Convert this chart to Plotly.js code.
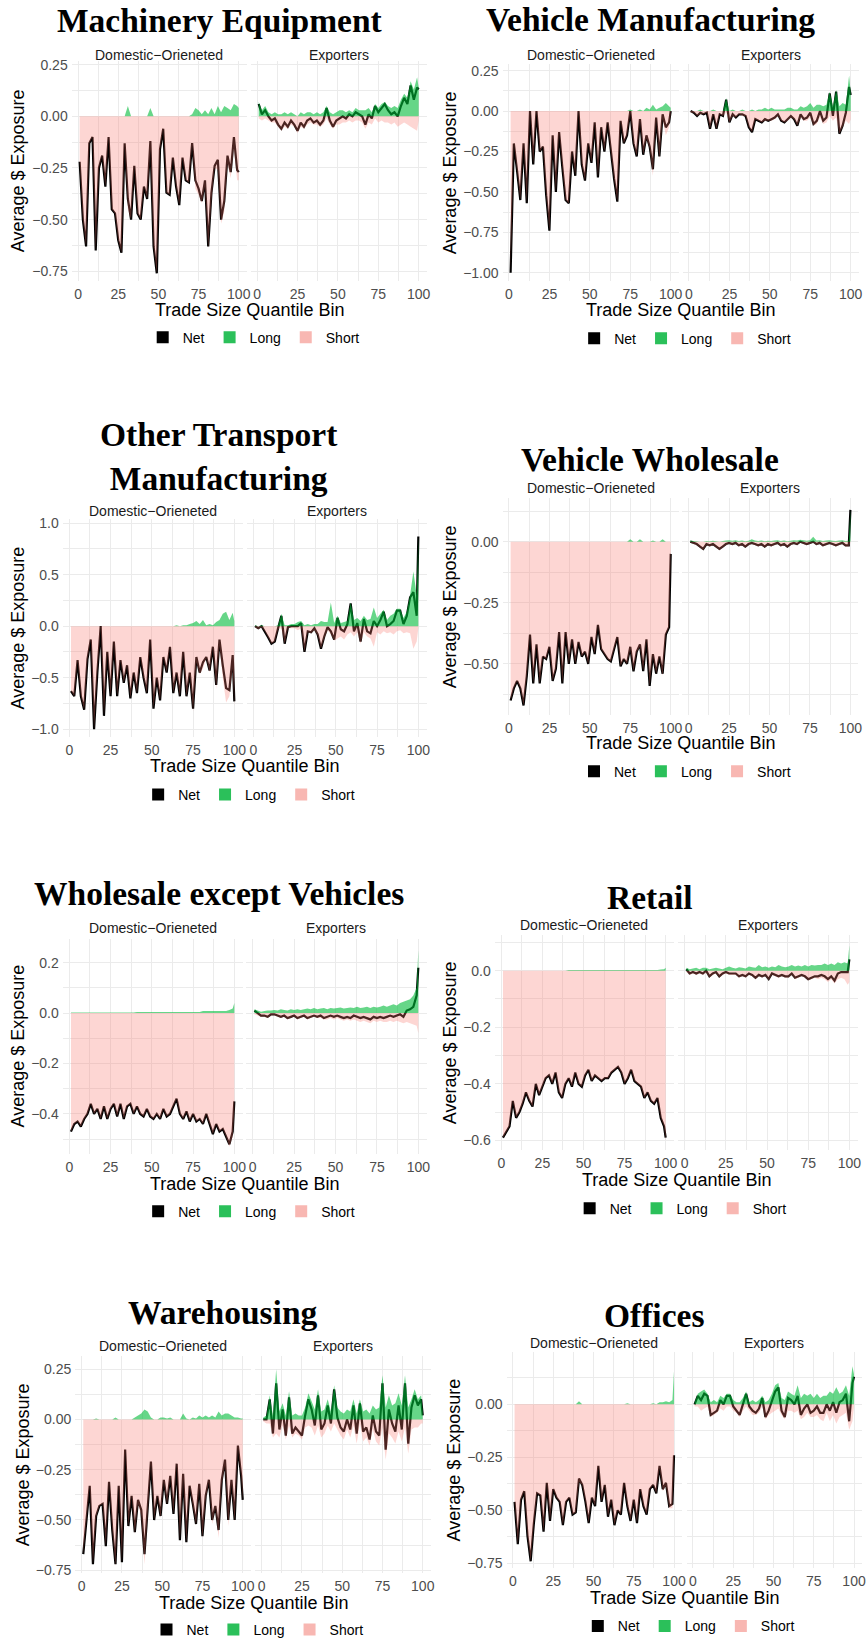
<!DOCTYPE html>
<html>
<head>
<meta charset="utf-8">
<script src="https://cdn.plot.ly/plotly-3.0.1.min.js"></script>
<style>
  html, body { margin: 0; padding: 0; background: #fff; }
</style>
</head>
<body>
<div id="plot"></div>
<script>
// Trade size quantile bins (every other bin, plus bin 100)
const bins = [1,3,5,7,9,11,13,15,17,19,21,23,25,27,29,31,33,35,37,39,41,43,45,47,49,51,53,55,57,59,61,63,65,67,69,71,73,75,77,79,81,83,85,87,89,91,93,95,97,99,100];

// Machinery Equipment
const machDomNet = [-0.22,-0.50,-0.63,-0.13,-0.10,-0.65,-0.25,-0.19,-0.34,-0.10,-0.45,-0.47,-0.60,-0.66,-0.13,-0.40,-0.50,-0.24,-0.47,-0.50,-0.34,-0.40,-0.12,-0.63,-0.76,-0.16,-0.06,-0.37,-0.38,-0.20,-0.34,-0.43,-0.20,-0.31,-0.32,-0.13,-0.31,-0.35,-0.41,-0.31,-0.63,-0.37,-0.24,-0.21,-0.50,-0.41,-0.19,-0.27,-0.10,-0.26,-0.27];
const machDomLong = [0,0,0,0,0,0,0,0,0,0,0,0,0,0,0,0.05,0,0,0,0,0,0,0.04,0,0,0,0,0,0,0,0,0,0,0,0,0.01,0.04,0.03,0.01,0.03,0.01,0.04,0.01,0.05,0.02,0.05,0.04,0.03,0.06,0.05,0.04];
const machDomShort = [-0.22,-0.50,-0.63,-0.13,-0.10,-0.65,-0.25,-0.19,-0.34,-0.10,-0.45,-0.47,-0.60,-0.66,-0.13,-0.45,-0.50,-0.24,-0.47,-0.50,-0.34,-0.40,-0.16,-0.63,-0.76,-0.16,-0.06,-0.37,-0.38,-0.20,-0.34,-0.43,-0.20,-0.31,-0.32,-0.14,-0.35,-0.38,-0.42,-0.34,-0.64,-0.41,-0.25,-0.26,-0.52,-0.46,-0.23,-0.30,-0.16,-0.31,-0.31];
const machExpNet = [0.06,0.01,0.03,0.0,-0.02,-0.01,-0.04,-0.06,-0.03,-0.05,-0.02,-0.04,-0.07,-0.03,-0.05,-0.02,-0.01,-0.03,-0.02,-0.04,-0.02,0.04,-0.02,-0.05,-0.02,-0.01,0.0,-0.01,0.01,0.0,0.02,0.01,0.0,-0.04,0.01,-0.01,0.05,0.02,0.04,0.06,0.03,0.01,0.02,0.0,0.05,0.09,0.06,0.15,0.08,0.14,0.13];
const machExpLong = [0.07,0.03,0.05,0.02,0.01,0.02,0.01,0.01,0.02,0.01,0.02,0.01,0.0,0.02,0.01,0.02,0.02,0.01,0.02,0.01,0.02,0.05,0.02,0.01,0.02,0.03,0.03,0.02,0.03,0.02,0.04,0.03,0.03,0.03,0.04,0.02,0.06,0.04,0.06,0.07,0.05,0.04,0.05,0.04,0.08,0.11,0.09,0.17,0.13,0.19,0.14];
const machExpShort = [-0.01,-0.02,-0.01,-0.02,-0.03,-0.03,-0.05,-0.07,-0.05,-0.06,-0.04,-0.05,-0.08,-0.05,-0.06,-0.04,-0.03,-0.04,-0.04,-0.05,-0.04,-0.01,-0.04,-0.06,-0.04,-0.04,-0.03,-0.03,-0.02,-0.03,-0.02,-0.02,-0.03,-0.06,-0.03,-0.04,-0.01,-0.03,-0.02,-0.03,-0.03,-0.04,-0.03,-0.05,-0.04,-0.03,-0.04,-0.05,-0.06,-0.07,-0.02];

// Vehicle Manufacturing
const vmanDomNet = [-1.00,-0.20,-0.37,-0.55,-0.20,-0.57,0.0,-0.33,0.0,-0.25,-0.22,-0.52,-0.74,-0.15,-0.50,-0.13,-0.35,-0.55,-0.57,-0.25,-0.40,0.0,-0.33,-0.43,-0.20,-0.32,-0.07,-0.41,-0.10,-0.25,-0.07,-0.25,-0.42,-0.56,-0.06,-0.20,-0.15,0.0,-0.20,-0.28,-0.05,-0.27,-0.15,-0.22,-0.36,-0.04,-0.28,-0.02,-0.10,-0.07,0.0];
const vmanDomLong = [0,0,0,0,0,0,0,0,0,0,0,0,0,0,0,0,0,0,0,0,0,0,0,0,0,0,0,0,0,0,0,0,0,0,0,0,0,0.01,0,0,0.01,0,0.02,0.01,0.04,0.01,0.02,0.03,0.05,0.03,0.02];
const vmanDomShort = [-1.00,-0.20,-0.37,-0.55,-0.20,-0.57,0.0,-0.33,0.0,-0.25,-0.22,-0.52,-0.74,-0.15,-0.50,-0.13,-0.35,-0.55,-0.57,-0.25,-0.40,0.0,-0.33,-0.43,-0.20,-0.32,-0.07,-0.41,-0.10,-0.25,-0.07,-0.25,-0.42,-0.56,-0.06,-0.20,-0.15,-0.01,-0.20,-0.28,-0.06,-0.27,-0.17,-0.23,-0.40,-0.05,-0.30,-0.05,-0.15,-0.10,-0.02];
const vmanExpNet = [0.0,-0.01,-0.03,-0.01,-0.02,-0.01,-0.11,-0.02,-0.11,-0.02,-0.03,0.07,-0.07,-0.02,-0.04,-0.02,-0.02,-0.03,-0.10,-0.13,-0.05,-0.06,-0.07,-0.05,-0.06,-0.05,-0.04,-0.02,-0.06,-0.07,-0.05,-0.03,-0.05,-0.09,-0.02,-0.05,-0.04,-0.01,-0.08,-0.06,0.0,-0.06,-0.04,0.11,-0.03,0.12,-0.14,-0.09,-0.01,0.15,0.10];
const vmanExpLong = [0.0,0.0,0.0,0.01,0.0,0.0,0.0,0.01,0.0,0.0,0.0,0.08,0.0,0.01,0.0,0.0,0.01,0.0,0.0,0.01,0.0,0.01,0.01,0.02,0.01,0.02,0.01,0.01,0.01,0.01,0.02,0.02,0.01,0.01,0.03,0.02,0.03,0.05,0.02,0.04,0.04,0.03,0.04,0.12,0.03,0.13,0.03,0.05,0.04,0.22,0.12];
const vmanExpShort = [-0.01,-0.01,-0.03,-0.02,-0.02,-0.01,-0.11,-0.02,-0.11,-0.02,-0.03,-0.01,-0.07,-0.03,-0.04,-0.02,-0.03,-0.03,-0.10,-0.13,-0.05,-0.06,-0.07,-0.06,-0.06,-0.06,-0.05,-0.03,-0.06,-0.07,-0.06,-0.04,-0.05,-0.09,-0.04,-0.06,-0.06,-0.04,-0.09,-0.08,-0.04,-0.08,-0.07,-0.03,-0.06,-0.04,-0.14,-0.10,-0.06,-0.08,-0.05];

// Other Transport Manufacturing
const otmDomNet = [-0.63,-0.68,-0.33,-0.68,-0.81,-0.32,-0.13,-1.00,-0.45,0.0,-0.87,-0.25,-0.68,-0.15,-0.68,-0.33,-0.55,-0.38,-0.70,-0.45,-0.65,-0.30,-0.50,-0.65,-0.13,-0.80,-0.50,-0.72,-0.30,-0.45,-0.20,-0.65,-0.45,-0.68,-0.25,-0.68,-0.45,-0.80,-0.30,-0.45,-0.35,-0.30,-0.43,-0.20,-0.57,-0.13,-0.38,-0.60,-0.62,-0.28,-0.73];
const otmDomLong = [0,0,0,0,0,0,0,0,0,0,0,0,0,0,0,0,0,0,0,0,0,0,0,0,0,0,0,0,0,0,0,0,0.01,0,0.01,0.01,0.02,0.03,0.05,0.02,0.06,0.01,0.02,0.01,0.04,0.06,0.12,0.14,0.06,0.13,0.05];
const otmDomShort = [-0.63,-0.68,-0.33,-0.68,-0.81,-0.32,-0.13,-1.00,-0.45,0.0,-0.87,-0.25,-0.68,-0.15,-0.68,-0.33,-0.55,-0.38,-0.70,-0.45,-0.65,-0.30,-0.50,-0.65,-0.13,-0.80,-0.50,-0.72,-0.30,-0.45,-0.20,-0.65,-0.46,-0.68,-0.26,-0.69,-0.47,-0.83,-0.35,-0.47,-0.41,-0.31,-0.45,-0.21,-0.61,-0.19,-0.50,-0.74,-0.68,-0.41,-0.78];
const otmExpNet = [0.0,-0.02,0.0,-0.05,-0.11,-0.17,-0.15,-0.02,0.10,-0.17,-0.01,0.0,0.0,0.0,0.03,-0.25,-0.05,-0.06,-0.02,-0.08,-0.22,-0.10,-0.01,-0.05,-0.13,0.08,-0.03,-0.05,0.02,0.22,-0.05,0.03,-0.15,0.07,-0.05,-0.07,0.05,0.0,0.06,0.14,0.0,0.02,0.05,0.15,0.15,0.02,0.10,0.28,0.33,0.10,0.87];
const otmExpLong = [0.01,0.0,0.01,0.0,0.0,0.0,0.0,0.01,0.12,0.01,0.01,0.02,0.02,0.04,0.05,0.01,0.02,0.01,0.02,0.02,0.05,0.04,0.04,0.23,0.03,0.10,0.03,0.04,0.05,0.23,0.06,0.08,0.05,0.10,0.06,0.07,0.18,0.08,0.12,0.16,0.06,0.10,0.12,0.17,0.17,0.08,0.14,0.30,0.53,0.30,0.87];
const otmExpShort = [-0.01,-0.03,-0.01,-0.05,-0.11,-0.17,-0.15,-0.03,-0.02,-0.17,-0.02,-0.02,-0.02,-0.04,-0.02,-0.25,-0.06,-0.07,-0.04,-0.09,-0.22,-0.12,-0.04,-0.08,-0.14,-0.12,-0.10,-0.13,-0.08,-0.06,-0.10,-0.06,-0.17,-0.06,-0.10,-0.12,-0.20,-0.06,-0.08,-0.05,-0.07,-0.06,-0.08,-0.05,-0.04,-0.07,-0.06,-0.07,-0.22,-0.15,-0.02];

// Vehicle Wholesale
const vwhDomNet = [-0.65,-0.60,-0.57,-0.60,-0.67,-0.55,-0.38,-0.58,-0.42,-0.58,-0.47,-0.48,-0.43,-0.57,-0.52,-0.37,-0.58,-0.37,-0.50,-0.40,-0.50,-0.41,-0.47,-0.45,-0.50,-0.39,-0.46,-0.34,-0.44,-0.46,-0.48,-0.49,-0.44,-0.39,-0.51,-0.48,-0.50,-0.43,-0.53,-0.45,-0.42,-0.53,-0.40,-0.59,-0.46,-0.54,-0.47,-0.54,-0.38,-0.35,-0.05];
const vwhDomLong = [0,0,0,0,0,0,0,0,0,0,0,0,0,0,0,0,0,0,0,0,0,0,0,0,0,0,0,0,0,0,0,0,0,0,0,0,0,0.01,0,0,0.01,0,0,0,0.005,0,0,0.01,0,0,0];
const vwhDomShort = [-0.65,-0.60,-0.57,-0.60,-0.67,-0.55,-0.38,-0.58,-0.42,-0.58,-0.47,-0.48,-0.43,-0.57,-0.52,-0.37,-0.58,-0.37,-0.50,-0.40,-0.50,-0.41,-0.47,-0.45,-0.50,-0.39,-0.46,-0.34,-0.44,-0.46,-0.48,-0.49,-0.44,-0.39,-0.51,-0.48,-0.50,-0.44,-0.53,-0.45,-0.43,-0.53,-0.40,-0.59,-0.465,-0.54,-0.47,-0.55,-0.38,-0.35,-0.05];
const vwhExpNet = [0.0,-0.005,-0.01,-0.02,-0.03,-0.01,-0.015,-0.01,-0.02,-0.03,-0.02,-0.01,-0.005,-0.01,-0.005,-0.015,-0.01,-0.02,-0.01,-0.005,-0.01,-0.015,-0.01,-0.02,-0.01,-0.015,-0.01,-0.005,-0.015,-0.01,-0.02,-0.01,-0.005,-0.01,0.0,-0.005,-0.01,-0.005,0.0,-0.01,-0.005,-0.015,-0.01,-0.005,-0.01,-0.015,-0.01,-0.005,-0.015,-0.015,0.13];
const vwhExpLong = [0.005,0.003,0.002,0,0,0.003,0.002,0.004,0.002,0,0.003,0.005,0.006,0.004,0.006,0.003,0.005,0.002,0.004,0.01,0.005,0.003,0.005,0.002,0.004,0.003,0.005,0.006,0.003,0.005,0.002,0.004,0.006,0.005,0.008,0.006,0.004,0.006,0.02,0.005,0.006,0.003,0.005,0.006,0.004,0.003,0.005,0.006,0.003,0.004,0.13];
const vwhExpShort = [-0.005,-0.01,-0.015,-0.025,-0.035,-0.015,-0.02,-0.015,-0.025,-0.035,-0.025,-0.015,-0.01,-0.015,-0.01,-0.02,-0.015,-0.025,-0.015,-0.01,-0.015,-0.02,-0.015,-0.025,-0.015,-0.02,-0.015,-0.01,-0.02,-0.015,-0.025,-0.015,-0.01,-0.015,-0.005,-0.01,-0.015,-0.01,-0.005,-0.015,-0.01,-0.02,-0.015,-0.01,-0.015,-0.02,-0.015,-0.01,-0.02,-0.02,-0.005];

// Wholesale except Vehicles
const wsxDomNet = [-0.47,-0.44,-0.43,-0.45,-0.42,-0.40,-0.36,-0.40,-0.38,-0.42,-0.37,-0.42,-0.38,-0.36,-0.41,-0.36,-0.42,-0.37,-0.36,-0.40,-0.37,-0.40,-0.41,-0.38,-0.41,-0.42,-0.40,-0.42,-0.38,-0.41,-0.40,-0.37,-0.34,-0.40,-0.42,-0.39,-0.43,-0.40,-0.43,-0.42,-0.44,-0.40,-0.44,-0.48,-0.44,-0.47,-0.46,-0.49,-0.52,-0.47,-0.35];
const wsxDomLong = [0.002,0.002,0.002,0.002,0.002,0.002,0.002,0.002,0.002,0.002,0.002,0.002,0.002,0.002,0.002,0.002,0.002,0.002,0.002,0.002,0.004,0.004,0.004,0.004,0.004,0.004,0.004,0.004,0.004,0.004,0.004,0.004,0.004,0.004,0.004,0.004,0.004,0.004,0.004,0.004,0.008,0.008,0.008,0.008,0.008,0.008,0.008,0.008,0.012,0.018,0.04];
const wsxDomShort = [-0.47,-0.44,-0.43,-0.45,-0.42,-0.40,-0.36,-0.40,-0.38,-0.42,-0.37,-0.42,-0.38,-0.36,-0.41,-0.36,-0.42,-0.37,-0.36,-0.40,-0.37,-0.40,-0.41,-0.38,-0.41,-0.42,-0.40,-0.42,-0.38,-0.41,-0.40,-0.37,-0.34,-0.40,-0.42,-0.39,-0.43,-0.40,-0.43,-0.42,-0.44,-0.40,-0.44,-0.48,-0.44,-0.47,-0.46,-0.49,-0.53,-0.49,-0.39];
const wsxExpNet = [0.01,0.0,-0.01,-0.01,-0.015,-0.005,-0.005,-0.01,-0.015,-0.01,-0.02,-0.015,-0.01,-0.02,-0.015,-0.01,-0.02,-0.015,-0.01,-0.015,-0.01,-0.02,-0.015,-0.01,-0.015,-0.01,-0.015,-0.02,-0.015,-0.02,-0.01,-0.015,-0.02,-0.015,-0.02,-0.025,-0.015,-0.02,-0.015,-0.02,-0.015,-0.01,-0.015,-0.01,-0.005,-0.015,0.01,0.015,0.025,0.07,0.18];
const wsxExpLong = [0.015,0.01,0.005,0.008,0.01,0.01,0.012,0.01,0.015,0.012,0.01,0.015,0.012,0.015,0.012,0.015,0.018,0.015,0.02,0.015,0.018,0.02,0.015,0.02,0.018,0.02,0.022,0.018,0.02,0.022,0.02,0.025,0.02,0.022,0.025,0.02,0.025,0.022,0.025,0.03,0.025,0.03,0.035,0.03,0.04,0.045,0.05,0.055,0.07,0.1,0.25];
const wsxExpShort = [-0.005,-0.01,-0.015,-0.015,-0.02,-0.01,-0.01,-0.015,-0.02,-0.015,-0.025,-0.02,-0.015,-0.025,-0.02,-0.015,-0.025,-0.02,-0.015,-0.02,-0.02,-0.025,-0.025,-0.02,-0.025,-0.02,-0.025,-0.03,-0.025,-0.03,-0.025,-0.03,-0.035,-0.03,-0.035,-0.04,-0.03,-0.035,-0.03,-0.035,-0.035,-0.03,-0.035,-0.03,-0.035,-0.04,-0.035,-0.04,-0.045,-0.05,-0.08];

// Retail
const retDomNet = [-0.59,-0.57,-0.55,-0.46,-0.52,-0.50,-0.47,-0.43,-0.46,-0.48,-0.40,-0.44,-0.41,-0.38,-0.37,-0.40,-0.36,-0.43,-0.45,-0.40,-0.38,-0.41,-0.36,-0.40,-0.41,-0.37,-0.35,-0.39,-0.37,-0.38,-0.39,-0.38,-0.38,-0.36,-0.35,-0.34,-0.36,-0.40,-0.38,-0.35,-0.39,-0.40,-0.41,-0.45,-0.43,-0.46,-0.47,-0.45,-0.52,-0.55,-0.59];
const retDomLong = [0,0,0,0,0,0,0,0,0,0,0,0,0,0,0,0,0,0,0,0,0.002,0.002,0.002,0.002,0.002,0.002,0.002,0.002,0.002,0.002,0.002,0.002,0.002,0.002,0.002,0.002,0.002,0.002,0.002,0.002,0.002,0.002,0.002,0.002,0.002,0.002,0.002,0.002,0.004,0.005,0.01];
const retDomShort = [-0.59,-0.57,-0.55,-0.46,-0.52,-0.50,-0.47,-0.43,-0.46,-0.48,-0.40,-0.44,-0.41,-0.38,-0.37,-0.40,-0.36,-0.43,-0.45,-0.40,-0.38,-0.41,-0.36,-0.40,-0.41,-0.37,-0.35,-0.39,-0.37,-0.38,-0.39,-0.38,-0.38,-0.36,-0.35,-0.34,-0.36,-0.40,-0.38,-0.35,-0.39,-0.40,-0.41,-0.45,-0.43,-0.46,-0.47,-0.45,-0.52,-0.55,-0.60];
const retExpNet = [0.005,-0.01,-0.005,-0.01,-0.005,-0.01,0.0,-0.02,-0.01,-0.005,-0.02,-0.01,-0.005,-0.01,-0.01,-0.01,-0.02,-0.015,-0.02,-0.01,-0.015,-0.025,-0.015,-0.02,-0.015,-0.03,-0.01,-0.015,-0.02,-0.015,-0.02,-0.02,-0.01,-0.025,-0.02,-0.015,-0.02,-0.03,-0.025,-0.02,-0.02,-0.015,-0.02,-0.03,-0.02,-0.035,-0.01,-0.005,-0.005,-0.005,0.04];
const retExpLong = [0.01,0.005,0.008,0.01,0.005,0.01,0.01,0.005,0.008,0.01,0.008,0.005,0.01,0.015,0.01,0.008,0.012,0.01,0.008,0.015,0.012,0.01,0.02,0.012,0.015,0.01,0.015,0.012,0.02,0.015,0.012,0.015,0.02,0.015,0.018,0.015,0.02,0.015,0.02,0.018,0.02,0.02,0.025,0.02,0.025,0.02,0.03,0.025,0.03,0.025,0.09];
const retExpShort = [-0.005,-0.015,-0.01,-0.015,-0.01,-0.015,-0.008,-0.025,-0.015,-0.01,-0.025,-0.015,-0.01,-0.015,-0.015,-0.015,-0.025,-0.02,-0.025,-0.015,-0.02,-0.03,-0.02,-0.025,-0.02,-0.035,-0.015,-0.02,-0.025,-0.02,-0.025,-0.025,-0.015,-0.03,-0.025,-0.02,-0.025,-0.035,-0.03,-0.025,-0.03,-0.025,-0.03,-0.04,-0.03,-0.045,-0.03,-0.025,-0.03,-0.05,-0.04];

// Warehousing
const wareDomNet = [-0.67,-0.50,-0.33,-0.72,-0.48,-0.43,-0.42,-0.63,-0.31,-0.55,-0.72,-0.33,-0.71,-0.15,-0.53,-0.38,-0.56,-0.40,-0.45,-0.67,-0.43,-0.21,-0.50,-0.38,-0.48,-0.30,-0.42,-0.28,-0.47,-0.22,-0.60,-0.27,-0.61,-0.33,-0.42,-0.52,-0.32,-0.58,-0.38,-0.30,-0.50,-0.43,-0.55,-0.30,-0.20,-0.50,-0.30,-0.50,-0.13,-0.28,-0.40];
const wareDomLong = [0,0,0,0,0.005,0,0,0,0,0,0.01,0,0,0,0,0,0.01,0.02,0.03,0.05,0.04,0.01,0,0,0.01,0.01,0.005,0.01,0,0,0,0.03,0.005,0,0.01,0.005,0.02,0.01,0.02,0.01,0.02,0.01,0.04,0.02,0.03,0.03,0.02,0.01,0.01,0.005,0.005];
const wareDomShort = [-0.67,-0.50,-0.33,-0.72,-0.485,-0.43,-0.42,-0.63,-0.31,-0.55,-0.73,-0.33,-0.71,-0.15,-0.53,-0.38,-0.57,-0.42,-0.48,-0.72,-0.47,-0.22,-0.50,-0.38,-0.49,-0.31,-0.425,-0.29,-0.47,-0.22,-0.60,-0.30,-0.615,-0.33,-0.43,-0.525,-0.34,-0.59,-0.40,-0.31,-0.52,-0.44,-0.59,-0.32,-0.23,-0.53,-0.32,-0.51,-0.14,-0.285,-0.405];
const wareExpNet = [0.0,0.0,0.10,-0.07,0.18,-0.05,0.05,-0.08,0.11,-0.07,-0.04,-0.06,-0.08,0.02,0.10,0.05,-0.03,0.12,-0.05,-0.02,0.07,-0.02,0.15,0.01,-0.04,-0.06,0.0,-0.05,0.07,-0.07,0.08,-0.06,-0.04,-0.10,0.02,-0.06,-0.08,0.18,-0.15,0.05,-0.02,-0.06,0.07,-0.05,0.18,-0.12,0.06,0.12,0.07,0.10,0.02];
const wareExpLong = [0.01,0.02,0.12,0.02,0.25,0.04,0.08,0.02,0.14,0.02,0.03,0.02,0.02,0.06,0.13,0.09,0.05,0.15,0.04,0.05,0.10,0.04,0.17,0.06,0.04,0.03,0.05,0.04,0.10,0.03,0.10,0.04,0.05,0.03,0.07,0.05,0.06,0.22,0.06,0.12,0.07,0.08,0.13,0.07,0.22,0.06,0.10,0.15,0.10,0.12,0.04];
const wareExpShort = [-0.01,-0.02,-0.02,-0.09,-0.07,-0.09,-0.03,-0.10,-0.03,-0.09,-0.07,-0.08,-0.10,-0.04,-0.03,-0.04,-0.08,-0.03,-0.09,-0.07,-0.03,-0.06,-0.02,-0.05,-0.08,-0.10,-0.05,-0.09,-0.03,-0.12,-0.02,-0.11,-0.09,-0.13,-0.05,-0.11,-0.13,-0.04,-0.20,-0.07,-0.09,-0.12,-0.06,-0.11,-0.04,-0.17,-0.05,-0.04,-0.04,-0.02,-0.02];

// Offices
const offDomNet = [-0.46,-0.66,-0.45,-0.41,-0.62,-0.74,-0.56,-0.42,-0.43,-0.60,-0.37,-0.55,-0.40,-0.44,-0.46,-0.57,-0.46,-0.44,-0.52,-0.51,-0.35,-0.38,-0.46,-0.56,-0.44,-0.48,-0.29,-0.46,-0.38,-0.53,-0.45,-0.57,-0.50,-0.52,-0.37,-0.48,-0.55,-0.45,-0.56,-0.40,-0.48,-0.52,-0.40,-0.38,-0.42,-0.29,-0.40,-0.37,-0.48,-0.47,-0.24];
const offDomLong = [0,0,0,0,0,0,0,0,0,0,0,0,0,0,0,0,0,0,0,0,0.015,0,0,0,0,0,0,0,0,0,0,0,0,0,0,0.005,0,0,0,0,0,0,0,0.005,0,0.01,0.01,0.015,0.01,0.02,0.16];
const offDomShort = [-0.46,-0.66,-0.45,-0.41,-0.62,-0.74,-0.56,-0.42,-0.43,-0.60,-0.37,-0.55,-0.40,-0.44,-0.46,-0.57,-0.46,-0.44,-0.52,-0.51,-0.365,-0.38,-0.46,-0.56,-0.44,-0.48,-0.29,-0.46,-0.38,-0.53,-0.45,-0.57,-0.50,-0.52,-0.37,-0.48,-0.55,-0.45,-0.56,-0.40,-0.48,-0.52,-0.40,-0.38,-0.42,-0.30,-0.41,-0.385,-0.49,-0.49,-0.26];
const offExpNet = [0.0,0.04,0.02,0.05,0.04,-0.05,-0.04,-0.03,0.02,0.0,0.04,0.04,-0.01,-0.03,-0.05,0.0,0.05,-0.01,-0.03,-0.04,-0.02,0.03,-0.06,-0.03,0.01,0.06,0.08,-0.03,-0.06,0.03,0.02,0.0,0.04,-0.05,-0.02,0.0,-0.04,-0.03,-0.01,-0.04,-0.04,0.0,-0.03,0.01,-0.04,0.01,0.02,0.05,-0.08,0.10,0.13];
const offExpLong = [0.01,0.05,0.06,0.07,0.05,0.01,0.02,0.01,0.04,0.03,0.05,0.05,0.02,0.01,0.01,0.03,0.06,0.01,0.02,0.01,0.02,0.04,0.01,0.02,0.05,0.09,0.10,0.03,0.02,0.06,0.05,0.04,0.09,0.03,0.05,0.04,0.05,0.03,0.05,0.03,0.04,0.04,0.06,0.05,0.08,0.05,0.06,0.09,0.04,0.18,0.14];
const offExpShort = [-0.01,-0.01,-0.03,-0.02,-0.01,-0.06,-0.05,-0.04,-0.02,-0.03,-0.01,-0.01,-0.03,-0.04,-0.06,-0.03,-0.01,-0.03,-0.05,-0.05,-0.04,-0.01,-0.07,-0.05,-0.04,-0.03,-0.02,-0.05,-0.07,-0.03,-0.03,-0.04,-0.03,-0.07,-0.06,-0.04,-0.06,-0.06,-0.05,-0.07,-0.08,-0.04,-0.08,-0.05,-0.09,-0.06,-0.05,-0.04,-0.12,-0.08,-0.01];

const facetNames = ['Domestic\u2212Orieneted', 'Exporters'];
const seriesNames = ['Net', 'Long', 'Short'];

const panels = [
  {title: 'Machinery Equipment', tx: 219.5, ty: 20.7, dom: [71.7, 246.7], exp: [250.7, 426.7], top: 61.7, bot: 281.7,
   yr: [-0.795, 0.266], dt: 0.25, fmt: '.2f', ytx: 18.3, sty: 55, xty: 311, lgy: 339,
   series: [[machDomNet, machDomLong, machDomShort], [machExpNet, machExpLong, machExpShort]]},
  {title: 'Vehicle Manufacturing', tx: 650, ty: 20, dom: [502.6, 678.7], exp: [682.6, 858.7], top: 64, bot: 282.7,
   yr: [-1.054, 0.293], dt: 0.25, fmt: '.2f', ytx: 449.7, sty: 55, xty: 311, lgy: 340,
   series: [[vmanDomNet, vmanDomLong, vmanDomShort], [vmanExpNet, vmanExpLong, vmanExpShort]]},
  {title: 'Other Transport<br>Manufacturing', tx: 219, ty: 458.3, dom: [62.8, 242.5], exp: [246.8, 426.5], top: 521.7, bot: 740,
   yr: [-1.074, 1.035], dt: 0.5, fmt: '.1f', ytx: 18.3, sty: 512.7, xty: 769, lgy: 798.3,
   series: [[otmDomNet, otmDomLong, otmDomShort], [otmExpNet, otmExpLong, otmExpShort]]},
  {title: 'Vehicle Wholesale', tx: 650, ty: 461.7, dom: [502.6, 678.7], exp: [682.3, 858.4], top: 500, bot: 718.3,
   yr: [-0.71, 0.179], dt: 0.25, fmt: '.2f', ytx: 449.7, sty: 490, xty: 746.5, lgy: 775,
   series: [[vwhDomNet, vwhDomLong, vwhDomShort], [vwhExpNet, vwhExpLong, vwhExpShort]]},
  {title: 'Wholesale except Vehicles', tx: 219.3, ty: 897.7, dom: [62.8, 242.5], exp: [246.2, 426.5], top: 942.7, bot: 1158.7,
   yr: [-0.558, 0.295], dt: 0.2, fmt: '.1f', ytx: 18.3, sty: 932, xty: 1189, lgy: 1216.7,
   series: [[wsxDomNet, wsxDomLong, wsxDomShort], [wsxExpNet, wsxExpLong, wsxExpShort]]},
  {title: 'Retail', tx: 650, ty: 901, dom: [494.8, 673.8], exp: [678.2, 857.5], top: 938.7, bot: 1155.3,
   yr: [-0.635, 0.127], dt: 0.2, fmt: '.1f', ytx: 449.7, sty: 928.7, xty: 1185, lgy: 1213.7,
   series: [[retDomNet, retDomLong, retDomShort], [retExpNet, retExpLong, retExpShort]]},
  {title: 'Warehousing', tx: 223.3, ty: 1317.7, dom: [75.3, 250.7], exp: [255.3, 430.7], top: 1361.7, bot: 1580,
   yr: [-0.765, 0.316], dt: 0.25, fmt: '.2f', ytx: 22.7, sty: 1352, xty: 1609.5, lgy: 1637,
   series: [[wareDomNet, wareDomLong, wareDomShort], [wareExpNet, wareExpLong, wareExpShort]]},
  {title: 'Offices', tx: 653.7, ty: 1321, dom: [506.6, 682], exp: [686.6, 862], top: 1357.7, bot: 1574.3,
   yr: [-0.77, 0.247], dt: 0.25, fmt: '.2f', ytx: 453.7, sty: 1348.3, xty: 1605, lgy: 1633.3,
   series: [[offDomNet, offDomLong, offDomShort], [offExpNet, offExpLong, offExpShort]]}
];

const W = 867, H = 1646;
const px = v => v / W;
const py = v => 1 - v / H;

const sans = 'Liberation Sans, Arial, sans-serif';
const serif = 'Liberation Serif, Times New Roman, serif';
const gridCol = '#ebebeb';
const longFill = 'rgba(0,186,56,0.6)';
const shortFill = 'rgba(248,118,109,0.3)';
const keyColors = ['#000000', '#2bc05a', '#f8b7b2'];

// minor grid lines sit halfway between the major ones (never on top of them)
function halfway(range, step) {
  const out = [];
  for (let k = Math.floor(range[0] / step) - 1; (k + 0.5) * step <= range[1]; k++) {
    const v = (k + 0.5) * step;
    if (v >= range[0]) out.push(+v.toFixed(4));
  }
  return out;
}

let traces = [];
let layout = {
  width: W, height: H,
  margin: {l: 0, r: 0, t: 0, b: 0},
  paper_bgcolor: '#fff', plot_bgcolor: 'rgba(0,0,0,0)',
  font: {family: sans, color: '#000'},
  annotations: []
};

function ann(text, x, y, size, extra) {
  layout.annotations.push(Object.assign({
    text: text, x: px(x), y: py(y), xref: 'paper', yref: 'paper',
    xanchor: 'center', yanchor: 'middle', showarrow: false,
    font: {family: sans, size: size, color: '#000'}
  }, extra || {}));
}

panels.forEach((p, k) => {
  const lg = k === 0 ? 'legend' : 'legend' + (k + 1);
  let firstX = null;

  [p.dom, p.exp].forEach((span, f) => {
    const n = 2 * k + f + 1;
    const xa = n === 1 ? 'x' : 'x' + n;
    const ya = n === 1 ? 'y' : 'y' + n;
    if (f === 0) firstX = xa;
    const [net, long, short] = p.series[f];

    // net line first so the translucent areas tint it, like the original
    traces.push({x: bins, y: net, xaxis: xa, yaxis: ya, type: 'scatter', mode: 'lines',
      line: {color: '#000', width: 2.2}, showlegend: false, hoverinfo: 'skip'});
    traces.push({x: bins, y: long, xaxis: xa, yaxis: ya, type: 'scatter', mode: 'none',
      fill: 'tozeroy', fillcolor: longFill, showlegend: false, hoverinfo: 'skip'});
    traces.push({x: bins, y: short, xaxis: xa, yaxis: ya, type: 'scatter', mode: 'none',
      fill: 'tozeroy', fillcolor: shortFill, showlegend: false, hoverinfo: 'skip'});

    layout['xaxis' + (n === 1 ? '' : n)] = {
      domain: [px(span[0]), px(span[1])], anchor: ya,
      range: [-3.95, 104.95], tickmode: 'linear', tick0: 0, dtick: 25,
      showgrid: true, gridcolor: gridCol, gridwidth: 1,
      minor: {showgrid: true, tickmode: 'array', tickvals: [12.5, 37.5, 62.5, 87.5], gridcolor: gridCol, gridwidth: 1},
      zeroline: false, showline: false, ticks: '', ticklabelstandoff: 3,
      tickfont: {family: sans, size: 14, color: '#4d4d4d'},
      automargin: false, fixedrange: true
    };
    layout['yaxis' + (n === 1 ? '' : n)] = {
      domain: [py(p.bot), py(p.top)], anchor: xa,
      range: p.yr, tickmode: 'linear', tick0: 0, dtick: p.dt, tickformat: p.fmt,
      showticklabels: f === 0, ticklabelstandoff: 3,
      showgrid: true, gridcolor: gridCol, gridwidth: 1,
      minor: {showgrid: true, tickmode: 'array', tickvals: halfway(p.yr, p.dt), gridcolor: gridCol, gridwidth: 1},
      zeroline: false, showline: false, ticks: '',
      tickfont: {family: sans, size: 14, color: '#4d4d4d'},
      automargin: false, fixedrange: true
    };

    ann(facetNames[f], (span[0] + span[1]) / 2, p.sty, 14, {font: {family: sans, size: 14, color: '#1a1a1a'}});
  });

  // legend entries for this panel
  seriesNames.forEach((name, j) => {
    traces.push({x: [null], y: [null], xaxis: firstX, yaxis: firstX.replace('x', 'y'),
      type: 'scatter', mode: 'markers', name: name, legend: lg, showlegend: true,
      marker: {symbol: 'square', size: 12, color: keyColors[j], line: {width: 0}}, hoverinfo: 'skip'});
  });

  const mid = (p.dom[0] + p.exp[1]) / 2;
  layout[lg] = {
    x: px(mid + 4.5), y: py(p.lgy), xanchor: 'center', yanchor: 'middle',
    orientation: 'h', bgcolor: 'rgba(0,0,0,0)', borderwidth: 0,
    font: {family: sans, size: 14, color: '#000'},
    itemclick: false, itemdoubleclick: false, traceorder: 'normal'
  };

  ann(p.title, p.tx, p.ty, 33.5, {font: {family: serif, size: 33.5, color: '#000', weight: 'bold'}});
  ann('Average $ Exposure', p.ytx, (p.top + p.bot) / 2, 18, {textangle: -90});
  ann('Trade Size Quantile Bin', mid, p.xty, 18);
});

Plotly.newPlot('plot', traces, layout, {displayModeBar: false, staticPlot: true});
</script>
</body>
</html>
